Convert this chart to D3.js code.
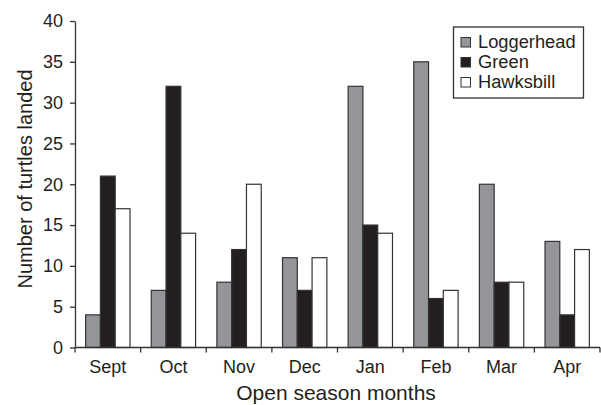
<!DOCTYPE html>
<html><head><meta charset="utf-8">
<script src="https://cdn.jsdelivr.net/npm/d3@7"></script>
<style>
body{margin:0;background:#fff;}
svg text{font-family:"Liberation Sans",Arial,sans-serif;fill:#231f20;}
</style></head>
<body><svg id="c" width="601" height="405"></svg>
<script>
const months = ["Sept","Oct","Nov","Dec","Jan","Feb","Mar","Apr"];
const seriesNames = ["Loggerhead","Green","Hawksbill"];
const loggerhead = [4,7,8,11,32,35,20,13];
const green = [21,32,12,7,15,6,8,4];
const hawksbill = [17,14,20,11,14,7,8,12];
const yTicks = [0,5,10,15,20,25,30,35,40];
const colors = ["#939598","#231f20","#ffffff"];
const seriesValues = [loggerhead, green, hawksbill];

const svg = d3.select("#c");
const x0 = d3.scaleBand().domain(months).range([75,600]).paddingInner(0).paddingOuter(0);
const x1 = d3.scaleBand().domain(seriesNames).range([0,x0.bandwidth()]).paddingInner(0).paddingOuter(0.72);
const y = d3.scaleLinear().domain([0,40]).range([347.5,21]);
const color = d3.scaleOrdinal().domain(seriesNames).range(colors);

// bars
const groups = svg.append("g").selectAll("g").data(months).join("g")
  .attr("transform", d => `translate(${x0(d)},0)`);
groups.selectAll("rect").data((m,i) => seriesNames.map((s,j) => ({s, v: seriesValues[j][i]})))
  .join("rect")
  .attr("x", d => x1(d.s)).attr("width", x1.bandwidth())
  .attr("y", d => y(d.v)).attr("height", d => y(0) - y(d.v))
  .attr("fill", d => color(d.s)).attr("stroke", "#333").attr("stroke-width", 1.2);

// y axis
const ya = svg.append("g").attr("transform","translate(75,0)")
  .call(d3.axisLeft(y).tickValues(yTicks).tickSize(5).tickPadding(7).tickSizeOuter(0));
ya.selectAll("text").style("font-size","18px");
ya.selectAll("path,line").attr("stroke","#333").attr("stroke-width",1.3);

// x axis: ticks at band boundaries
const xa = svg.append("g").attr("transform",`translate(0,${y(0)})`);
xa.append("line").attr("x1",75).attr("x2",600).attr("y1",0).attr("y2",0).attr("stroke","#333").attr("stroke-width",1.3);
const bounds = months.map(m => x0(m)).concat([x0(months[months.length-1]) + x0.bandwidth()]);
xa.selectAll("line.tk").data(bounds).join("line").attr("class","tk")
  .attr("x1",d=>d).attr("x2",d=>d).attr("y1",0).attr("y2",5).attr("stroke","#333").attr("stroke-width",1.3);
xa.selectAll("text").data(months).join("text")
  .attr("x", d => x0(d) + x0.bandwidth()/2).attr("y", 25)
  .attr("text-anchor","middle").style("font-size","18px").text(d => d);

// axis titles
svg.append("text").attr("transform","translate(31.5,179) rotate(-90)")
  .attr("text-anchor","middle").style("font-size","20px").text("Number of turtles landed");
svg.append("text").attr("x",336).attr("y",399.5)
  .attr("text-anchor","middle").style("font-size","21px").text("Open season months");

// legend
const lg = svg.append("g");
lg.append("rect").attr("x",453.5).attr("y",27).attr("width",130).attr("height",71)
  .attr("fill","#fff").attr("stroke","#333").attr("stroke-width",1.3);
const li = lg.selectAll("g.li").data(seriesNames).join("g").attr("class","li")
  .attr("transform",(d,i)=>`translate(0,${i*20})`);
li.append("rect").attr("x",461).attr("y",37.5).attr("width",9.5).attr("height",9.5)
  .attr("fill",d=>color(d)).attr("stroke","#333").attr("stroke-width",1);
li.append("text").attr("x",478).attr("y",47.5).style("font-size","18.3px").text(d=>d);
</script></body></html>
